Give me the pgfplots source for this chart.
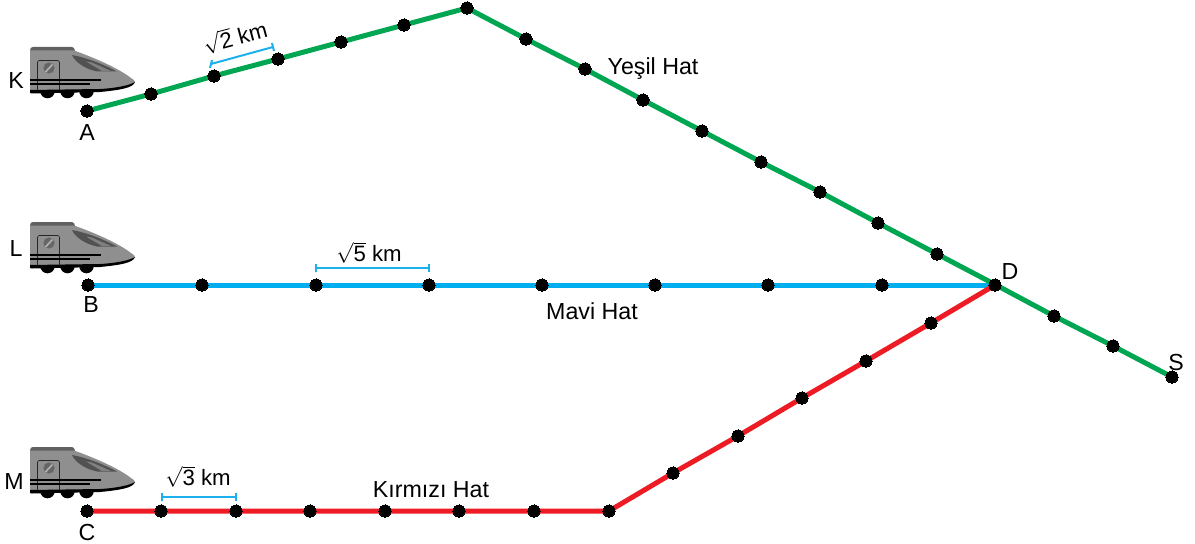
\documentclass[border=0pt]{standalone}
\usepackage{pgfplots}
\pgfplotsset{compat=1.18}
\usepackage{fontspec}
\setmainfont{Liberation Sans}
\definecolor{gh}{HTML}{00A651}
\definecolor{bh}{HTML}{00AEEF}
\definecolor{rh}{HTML}{ED1C24}
\definecolor{br}{HTML}{1CB0EC}
\tikzset{lb/.style={font=\fontsize{23.3}{26}\selectfont, text=black, inner sep=0pt},
 lbs/.style={font=\fontsize{22.3}{26}\selectfont, text=black, inner sep=0pt}}
\newcommand{\train}[1]{%
\begin{scope}[shift={(axis cs:0,#1)},x=1bp,y=-1bp]
 \fill[black] (47.5,44) circle (7.3) (67.5,44) circle (7.3) (86.5,44) circle (7.3);
 \fill[black!62] (30,4) .. controls (30,1) and (31,0) .. (33,0) -- (72,0) .. controls (74,0) and (74.5,1.5) .. (75,4) -- cycle;
 \fill[black!44] (30,3.5) -- (74,3.5) .. controls (95,11) and (118,21) .. (131,31) .. controls (134,33) and (135,34) .. (135,35) .. controls (132,41) and (120,42) .. (100,43) -- (33,46) .. controls (31,46) and (30,45) .. (30,43) -- cycle;
 \fill[black!68] (72,8) .. controls (88,11) and (105,18) .. (117,24.5) -- (97,24.5) .. controls (85,22) and (75,15) .. (72,8) -- cycle;
 \fill[black!50] (86,14.5) -- (92,15.5) -- (111,24) -- (102,24) -- cycle;
 \fill[black] (30,43) -- (100,42) .. controls (118,41) and (130,38) .. (135,35) .. controls (133,41) and (120,43) .. (100,45) -- (32,46.5) -- (30,46) -- cycle;
 \draw[black!85,line width=0.6] (37.5,43) -- (37.5,15) .. controls (37.5,14) and (38,13.5) .. (39,13.5) -- (58,13.5) .. controls (59,13.5) and (59.5,14) .. (59.5,15) -- (59.5,43);
 \fill[black!60] (49,21) circle (5.6);
 \draw[black!30,line width=1.6] (45.5,25) -- (52.5,17.5);
 \draw[black,line width=1.6] (30,33) -- (101,33);
 \draw[black,line width=1.2] (30,37) -- (90,37);
\end{scope}}
\begin{document}
\begin{tikzpicture}
\useasboundingbox (0,0) rectangle (1195bp,544bp);
\begin{axis}[
  at={(0,0)}, anchor=south west,
  scale only axis, width=1195bp, height=544bp,
  xmin=0, xmax=1195, ymin=0, ymax=544, y dir=reverse,
  hide axis, clip=false]
\train{47}\train{222}\train{447}
% lines
\addplot[bh, line width=5bp, line join=round] coordinates {(88,285)(202,285)(316,285)(429,285)(542,285)(655,285)(768,285)(882,285)(995,285)};
\addplot[gh, line width=5bp, line join=miter] coordinates {(87,111)(151,94)(214,76)(278,59)(341,42)(404,25)(467,8)(526,39)(585,69)(643,100)(702,131)(761,162)(820,192)(878,223)(937,254)(996,285)(1054,316)(1113,346)(1172,377)};
\addplot[rh, line width=5bp, line join=miter] coordinates {(87,511)(161,511)(236,511)(310,511)(385,511)(459,511)(534,511)(609,511)(673,473)(738,436)(802,398)(866,361)(931,323)(995,285)};
% stations
\addplot[only marks, mark=*, mark size=6.1bp, mark options={fill=black,draw=black,line width=0pt}] coordinates {(88,285)(202,285)(316,285)(429,285)(542,285)(655,285)(768,285)(882,285)(995,285)};
\addplot[only marks, mark=*, mark size=6.1bp, mark options={fill=black,draw=black,line width=0pt}] coordinates {(87,111)(151,94)(214,76)(278,59)(341,42)(404,25)(467,8)(526,39)(585,69)(643,100)(702,131)(761,162)(820,192)(878,223)(937,254)(1054,316)(1113,346)(1172,377)};
\addplot[only marks, mark=*, mark size=6.1bp, mark options={fill=black,draw=black,line width=0pt}] coordinates {(87,511)(161,511)(236,511)(310,511)(385,511)(459,511)(534,511)(609,511)(673,473)(738,436)(802,398)(866,361)(931,323)};
% scale brackets
\addplot[br, line width=2bp] coordinates {(212,60)(210,68)(211,64)(273,47)(272,43)(274,51)};
\addplot[br, line width=2bp] coordinates {(316,264)(316,272)(316,268)(429,268)(429,264)(429,272)};
\addplot[br, line width=2bp] coordinates {(162,493)(162,501)(162,497)(236,497)(236,493)(236,501)};
% labels
\node[lb] at (axis cs:16,81) {K};
\node[lb] at (axis cs:16,249) {L};
\node[lb] at (axis cs:14,482) {M};
\node[lb] at (axis cs:87,133) {A};
\node[lb] at (axis cs:91,305) {B};
\node[lb] at (axis cs:87,533) {C};
\node[lb] at (axis cs:1010,272) {D};
\node[lb] at (axis cs:1176,363) {S};
\node[lb] at (axis cs:653,69) {Yeşil Hat};
\node[lb] at (axis cs:592,311) {Mavi Hat};
\node[lb] at (axis cs:431,490) {Kırmızı Hat};
\node[lbs,rotate=15] at (axis cs:235,37) {$\sqrt{\mbox{2}}$ km};
\node[lbs] at (axis cs:369,253) {$\sqrt{\mbox{5}}$ km};
\node[lbs] at (axis cs:198,477) {$\sqrt{\mbox{3}}$ km};
\end{axis}
\end{tikzpicture}
\end{document}
